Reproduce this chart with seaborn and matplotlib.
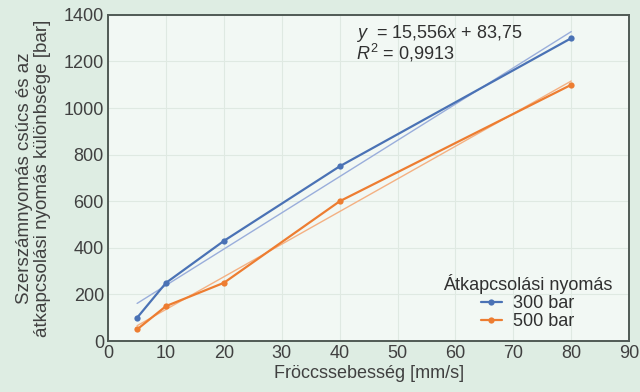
import matplotlib
matplotlib.use('Agg')
import matplotlib.pyplot as plt
import pandas as pd
import seaborn as sns

# speed values and the measured pressure differences
speed = [5, 10, 20, 40, 80]
diff_300 = [100, 250, 430, 750, 1300]
diff_500 = [50, 150, 250, 600, 1100]
series_names = ['300 bar', '500 bar']

df = pd.DataFrame({
    'speed': speed * 2,
    'diff': diff_300 + diff_500,
    'group': [series_names[0]] * len(speed) + [series_names[1]] * len(speed),
})

sns.set_style('white')
plt.rcParams['font.family'] = ['Liberation Sans', 'DejaVu Sans']
plt.rcParams['mathtext.fontset'] = 'custom'
plt.rcParams['mathtext.it'] = 'Liberation Sans:italic'
plt.rcParams['mathtext.rm'] = 'Liberation Sans'

fig_bg = '#deede3'
ax_bg = '#f2f8f4'
colors = ['#4a72b5', '#ed7d31']
trend_colors = ['#9aaedb', '#f4b183']
fs = 13

fig = plt.figure(figsize=(6.4, 3.92), dpi=100, facecolor=fig_bg)
ax = fig.add_axes([0.169, 0.130, 0.814, 0.832])
ax.set_facecolor(ax_bg)

# linear trendlines
sns.regplot(x=speed, y=diff_300, ax=ax, scatter=False, ci=None, truncate=True,
            line_kws={'color': trend_colors[0], 'lw': 1.0})
sns.regplot(x=speed, y=diff_500, ax=ax, scatter=False, ci=None, truncate=True,
            line_kws={'color': trend_colors[1], 'lw': 1.0})

sns.lineplot(data=df, x='speed', y='diff', hue='group', palette=colors,
             marker='o', markersize=4.5, markeredgewidth=0, lw=1.6, ax=ax)

ax.set_xlim(0, 90)
ax.set_ylim(0, 1400)
ax.set_xticks(range(0, 91, 10))
ax.set_yticks(range(0, 1401, 200))
ax.grid(True, color='#dfe9e2', lw=0.8)
ax.tick_params(length=0, labelsize=fs, colors='#404040', pad=3)
for s in ax.spines.values():
    s.set_color('#505a55')
    s.set_linewidth(1.4)

ax.set_xlabel('Fröccssebesség [mm/s]', fontsize=fs, color='#404040', labelpad=2)
ax.set_ylabel('Szerszámnyomás csúcs és az\nátkapcsolási nyomás különbsége [bar]',
              fontsize=13.5, color='#404040', labelpad=9, linespacing=1.05)

ax.text(42.8, 1365, r'$y$  = 15,556$x$ + 83,75' + '\n' + r'$R^2$ = 0,9913',
        fontsize=fs, color='#303030', va='top', linespacing=0.85)

leg = ax.legend(title='Átkapcsolási nyomás', loc='lower right', frameon=False,
                fontsize=fs, title_fontsize=fs, bbox_to_anchor=(0.995, -0.01),
                handlelength=1.2, handletextpad=0.6, labelspacing=0.05,
                borderpad=0.3)
for t in leg.get_texts():
    t.set_color('#303030')
leg.get_title().set_color('#303030')

fig.savefig('out.png', dpi=100, facecolor=fig_bg)
